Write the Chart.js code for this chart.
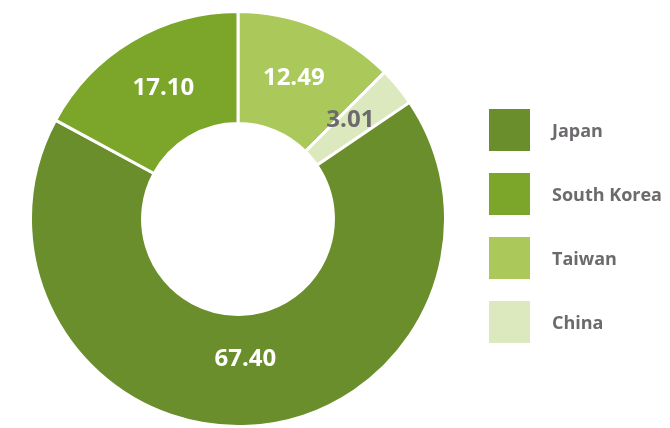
<!DOCTYPE html>
<html>
<head>
<meta charset="utf-8">
<script src="https://cdn.jsdelivr.net/npm/chart.js@4"></script>
<style>
    html, body { margin: 0; padding: 0; background: #fff; }
    #wrap { position: relative; width: 670px; height: 428px; overflow: hidden; }
    #chartCanvas { position: absolute; left: 0; top: 0; }
    #legend { position: absolute; left: 489px; top: 109px; margin: 0; padding: 0; list-style: none; }
    #legend li { display: flex; align-items: center; height: 42px; margin-bottom: 22px; }
    #legend .swatch { width: 41px; height: 42px; margin-right: 22px; }
    #legend .name { font: bold 18px "Open Sans", sans-serif; color: #6d6a6e; white-space: nowrap; }
</style>
</head>
<body>
<div id="wrap">
    <canvas id="chartCanvas" width="670" height="428"></canvas>
    <ul id="legend"></ul>
</div>
<script>
// slices go clockwise from 12 o'clock
const countries = ["Taiwan", "China", "Japan", "South Korea"];
const shares = [12.49, 3.01, 67.40, 17.10];
const sliceColors = ["#abc95b", "#dce8bd", "#6a8e2b", "#7ca62a"];
const labelColors = ["#ffffff", "#6d6a6e", "#ffffff", "#ffffff"];
const legendOrder = ["Japan", "South Korea", "Taiwan", "China"];

// writes each slice's value near the middle of its arc
const sliceLabels = {
    id: "sliceLabels",
    afterDatasetsDraw(chart) {
        const ctx = chart.ctx;
        const meta = chart.getDatasetMeta(0);
        ctx.save();
        ctx.font = "bold 24px 'Open Sans', sans-serif";
        ctx.textAlign = "center";
        ctx.textBaseline = "middle";
        meta.data.forEach((arc, i) => {
            const p = arc.getProps(["x", "y", "startAngle", "endAngle", "innerRadius", "outerRadius"], true);
            const mid = (p.startAngle + p.endAngle) / 2;
            const r = p.innerRadius + (p.outerRadius - p.innerRadius) * 0.45;
            ctx.fillStyle = labelColors[i];
            ctx.fillText(shares[i].toFixed(2), p.x + Math.cos(mid) * r, p.y + Math.sin(mid) * r - 6);
        });
        ctx.restore();
    }
};

new Chart(document.getElementById("chartCanvas"), {
    type: "doughnut",
    data: {
        labels: countries,
        datasets: [{
            data: shares,
            backgroundColor: sliceColors,
            borderColor: "#ffffff",
            borderWidth: 3
        }]
    },
    options: {
        responsive: false,
        animation: false,
        cutout: "46%",
        layout: { padding: { left: 28, top: 10, right: 222, bottom: 0 } },
        plugins: {
            legend: { display: false },
            tooltip: { enabled: false }
        }
    },
    plugins: [sliceLabels]
});

const legendList = document.getElementById("legend");
legendOrder.forEach((name) => {
    const idx = countries.indexOf(name);
    const item = document.createElement("li");
    item.innerHTML = "<span class='swatch' style='background:" + sliceColors[idx] +
        "'></span><span class='name'>" + name + "</span>";
    legendList.appendChild(item);
});
</script>
</body>
</html>
